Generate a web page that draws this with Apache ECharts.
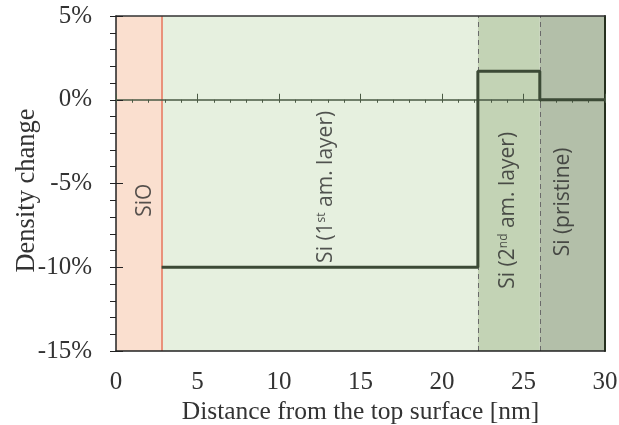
<!DOCTYPE html>
<html><head><meta charset="utf-8">
<script src="https://cdn.jsdelivr.net/npm/echarts@6/dist/echarts.min.js"></script>
<style>html,body{margin:0;padding:0;background:#fff}#c{width:619px;height:425px}</style>
</head><body><div id="c"></div>
<script>
// Layer boundaries (nm)
const xRange = [0, 30];
const layerBounds = [0, 2.8, 22.2, 26.0, 30];
const layerNames = ['SiO', 'Si (1{sup|st} am. layer)', 'Si (2{sup|nd} am. layer)', 'Si (pristine)'];
const layerColors = ['#fadfcf', '#e6f0df', '#c3d3b5', '#b3bfa9'];
// Where each layer's name sits (x in nm, y in %)
const labelX = [1.75, 12.9, 24.05, 27.4];
const labelY = [-6.0, -5.2, -6.6, -6.1];
// Density change step profile
const profileX = [2.8, 22.2, 22.2, 26.0, 26.0, 30];
const profileY = [-10, -10, 1.7, 1.7, 0, 0];

const areas = layerNames.map((n, i) => [{
  xAxis: layerBounds[i], yAxis: 5,
  itemStyle: { color: layerColors[i] }
}, { xAxis: layerBounds[i + 1], yAxis: -15 }]);

const chart = echarts.init(document.getElementById('c'), null, { renderer: 'canvas' });
const serif = 'Liberation Serif';
const sans = 'Open Sans';
chart.setOption({
  animation: false,
  grid: { left: 116, right: 14, top: 16, bottom: 74, containLabel: false, outerBoundsMode: 'none' },
  xAxis: [{
    type: 'value', min: xRange[0], max: xRange[1], interval: 5, position: 'bottom',
    axisLine: { onZero: false, show: true, lineStyle: { color: '#222', width: 1.5 } },
    axisTick: { show: false }, splitLine: { show: false },
    axisLabel: { fontFamily: serif, fontSize: 25, color: '#333', margin: 19 },
    name: 'Distance from the top surface [nm]', nameLocation: 'middle', nameGap: 48,
    nameMoveOverlap: false,
    nameTextStyle: { fontFamily: serif, fontSize: 25.5, color: '#333' }
  }, {
    type: 'value', min: xRange[0], max: xRange[1], interval: 1, position: 'bottom',
    axisLine: { onZero: true, onZeroAxisIndex: 0, show: true, lineStyle: { color: '#4a5a44', width: 1.5 } },
    axisTick: { show: true, inside: false, length: 3, lineStyle: { color: '#4a5a44' } },
    axisLabel: { show: false }, splitLine: { show: false }
  }, {
    type: 'value', min: xRange[0], max: xRange[1], interval: 5, position: 'top',
    axisLine: { onZero: true, onZeroAxisIndex: 0, show: false },
    axisTick: { show: true, inside: false, length: 6, lineStyle: { color: '#4a5a44' } },
    axisLabel: { show: false }, splitLine: { show: false }
  }, {
    type: 'value', min: xRange[0], max: xRange[1], position: 'top', offset: 0,
    axisLine: { onZero: false, show: true, lineStyle: { color: '#333', width: 1.5 } },
    axisTick: { show: false }, axisLabel: { show: false }, splitLine: { show: false }
  }],
  yAxis: [{
    type: 'value', min: -15, max: 5, interval: 5, position: 'left',
    axisLine: { onZero: false, show: true, lineStyle: { color: '#222', width: 1.5 } },
    axisTick: { show: true, inside: false, length: 6, lineStyle: { color: '#222' } },
    minorTick: { show: true, splitNumber: 5, length: 6, lineStyle: { color: '#222' } },
    axisLabel: { fontFamily: serif, fontSize: 25, color: '#333', margin: 24, formatter: '{value}%' },
    splitLine: { show: false },
    name: 'Density change', nameLocation: 'middle', nameGap: 75,
    nameMoveOverlap: false,
    nameTextStyle: { fontFamily: serif, fontSize: 26.5, color: '#333', padding: [0, 14, 0, 0] }
  }, {
    type: 'value', min: -15, max: 5, interval: 5, position: 'left',
    axisLine: { onZero: false, show: false },
    axisTick: { show: true, inside: true, length: 7, lineStyle: { color: '#222' } },
    axisLabel: { show: false }, splitLine: { show: false }
  }, {
    type: 'value', min: -15, max: 5, position: 'right',
    axisLine: { onZero: false, show: true, lineStyle: { color: '#26301f', width: 2 } },
    axisTick: { show: false }, axisLabel: { show: false }, splitLine: { show: false }
  }],
  series: [{
    type: 'line', z: -1, data: [], xAxisIndex: 0, yAxisIndex: 0,
    markArea: { silent: true, z: -1, data: areas },
    markLine: {
      silent: true, symbol: 'none', label: { show: false }, z: -1,
      data: [
        { xAxis: layerBounds[1], lineStyle: { color: '#e8735a', type: 'solid', width: 1.5 } },
        { xAxis: layerBounds[2], lineStyle: { color: '#6a6a6a', type: [5, 4], width: 1 } },
        { xAxis: layerBounds[3], lineStyle: { color: '#6a6a6a', type: [5, 4], width: 1 } }
      ]
    }
  }, {
    type: 'scatter', xAxisIndex: 0, yAxisIndex: 0, z: 3, silent: true,
    symbolSize: 0,
    data: layerNames.map((n, i) => ({ value: [labelX[i], labelY[i]], name: n })),
    label: {
      show: true, position: 'inside', rotate: 90,
      formatter: p => p.name,
      fontFamily: sans, fontSize: 21, color: '#2a2a2a',
      rich: { sup: { fontSize: 12, verticalAlign: 'top', fontFamily: sans, color: '#2a2a2a' } }
    }
  }, {
    type: 'line', xAxisIndex: 0, yAxisIndex: 0, z: 5,
    data: profileX.map((x, i) => [x, profileY[i]]),
    showSymbol: false, symbol: 'none',
    lineStyle: { color: '#3c4a36', width: 3 }
  }]
});
</script></body></html>
